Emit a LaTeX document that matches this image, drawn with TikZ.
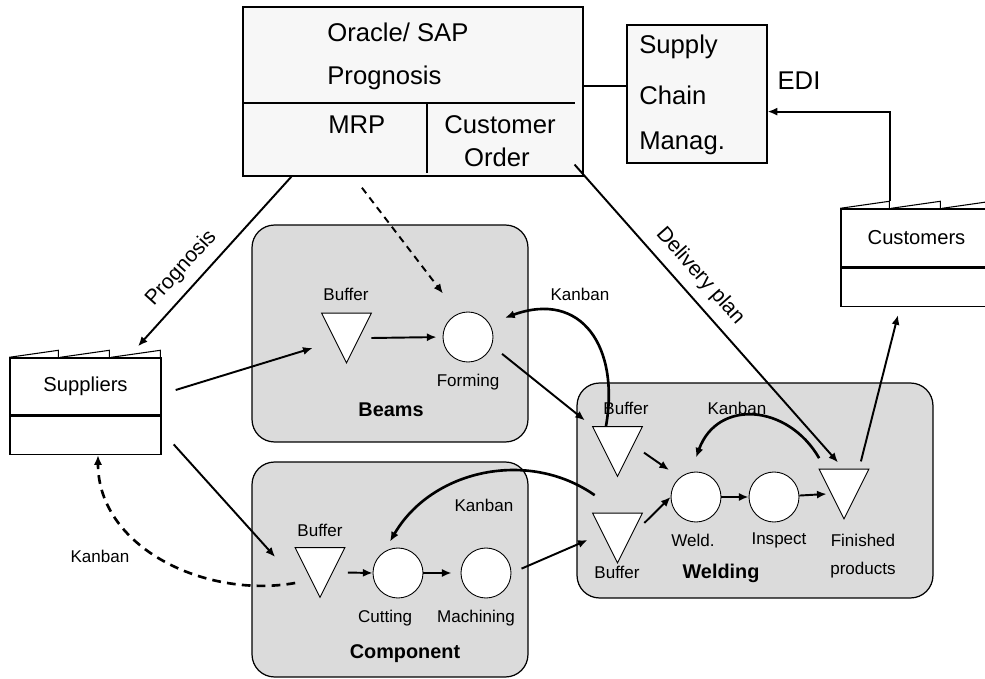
\documentclass[tikz,border=0pt]{standalone}
\usepackage{fontspec}
\setmainfont{Liberation Sans}
\usetikzlibrary{arrows.meta}

\begin{document}
\begin{tikzpicture}[
  x = 0.02cm,
  y = -0.02cm,
  >= {Latex[length = 5.5pt, width = 4.6pt]},
  system/.style = {draw, fill = black!3, line width = 0.7pt},
  cell/.style = {draw, fill = black!14, line width = 0.7pt, rounded corners = 0.45cm},
  folder/.style = {draw, fill = white, line width = 0.8pt, minimum width = 3.02cm, font = \fontsize{11.5}{13}\selectfont},
  buffer/.style = {minimum size = 0.98cm, inner sep = 0pt},
  wedge/.style = {draw, fill = white, line width = 0.5pt},
  process/.style = {draw, fill = white, circle, minimum size = 1cm, inner sep = 0pt, line width = 0.5pt},
  big/.style = {inner sep = 0pt, font = \fontsize{14.6}{17}\selectfont},
  small/.style = {inner sep = 0pt, font = \fontsize{9.7}{11}\selectfont},
  title/.style = {inner sep = 0pt, font = \bfseries\fontsize{11.3}{13}\selectfont},
  flow/.style = {->, line width = 1.1pt},
  kanban/.style = {->, line width = 1.5pt},
  ]

  \clip (0, 0) rectangle (985, 679);

  \node at (413, 91.5)
  [system, minimum width = 6.8cm, minimum height = 3.38cm, name = ERP] {};

  \node at (327, 32) [big, anchor = west, name = Oracle] {Oracle/ SAP};

  \node at (327, 78) [big, anchor = west, name = Prognosis] {Prognosis};

  \node at (328, 125) [big, anchor = west, name = MRP] {MRP};

  \node at (500, 125) [big, name = Customer] {Customer};

  \node at (497, 157) [big, name = Order] {Order};

  \draw [line width = 0.6pt] (243, 103) -- (575, 103);

  \draw [line width = 0.6pt] (427, 103) -- (427, 173);

  \node at (697, 94)
  [system, minimum width = 2.8cm, minimum height = 2.76cm, name = SCM] {};

  \node at (639, 47) [big, anchor = west, name = Supply] {Supply};

  \node at (639, 95) [big, anchor = west, name = Chain] {Chain};

  \node at (639, 143) [big, anchor = west, name = Manag] {Manag.};

  \node at (799, 81) [big, name = EDI] {EDI};

  \node at (916.5, 238)
  [folder, minimum height = 1.16cm, name = Customers] {Customers};

  \node at (Customers.south)
  [folder, anchor = north, minimum height = 0.76cm, name = CustomersBase] {};

  \foreach \dx in {0, 51, 102}
    \draw [line width = 0.6pt] (Customers.north west) ++(\dx, 0) -- ++(49, -7) -- ++(0, 7);

  \node at (85.5, 386.5)
  [folder, minimum height = 1.14cm, name = Suppliers] {Suppliers};

  \node at (Suppliers.south)
  [folder, anchor = north, minimum height = 0.76cm, name = SuppliersBase] {};

  \foreach \dx in {0, 51, 102}
    \draw [line width = 0.6pt] (Suppliers.north west) ++(\dx, 0) -- ++(49, -7) -- ++(0, 7);

  \node at (390, 333.5)
  [cell, minimum width = 5.52cm, minimum height = 4.34cm, name = Beams] {};

  \node at (390, 569.5)
  [cell, minimum width = 5.52cm, minimum height = 4.3cm, name = Component] {};

  \node at (755, 490.5)
  [cell, minimum width = 7.12cm, minimum height = 4.3cm, name = Welding] {};

  \node at (346.5, 338) [buffer, name = BeamsBuffer] {};

  \node at (346, 294) [small, name = BeamsBufferLabel] {Buffer};

  \node at (468, 337) [process, name = Forming] {};

  \node at (468, 382) [small, name = FormingLabel] {Forming};

  \node at (391, 410) [title, name = BeamsTitle] {Beams};

  \node at (580, 294) [small, name = BeamsKanban] {Kanban};

  \node at (320, 572.5) [buffer, name = CompBuffer] {};

  \node at (320, 530) [small, name = CompBufferLabel] {Buffer};

  \node at (398, 573) [process, name = Cutting] {};

  \node at (385, 618) [small, name = CuttingLabel] {Cutting};

  \node at (486, 573) [process, name = Machining] {};

  \node at (476, 618) [small, name = MachiningLabel] {Machining};

  \node at (405, 654) [title, name = ComponentTitle] {Component};

  \node at (484, 505) [small, name = CompKanban] {Kanban};

  \node at (617.5, 451.5) [buffer, name = WeldBufferTop] {};

  \node at (626, 408) [small, name = WeldBufferTopLabel] {Buffer};

  \node at (617.5, 538) [buffer, name = WeldBufferLow] {};

  \node at (617, 572) [small, name = WeldBufferLowLabel] {Buffer};

  \node at (696, 497) [process, name = Weld] {};

  \node at (693, 540) [small, name = WeldLabel] {Weld.};

  \node at (774, 497) [process, name = Inspect] {};

  \node at (779, 540) [small, name = InspectLabel] {Inspect};

  \node at (844, 494) [buffer, name = Finished] {};

  \node at (863, 540) [small, name = FinishedLabel] {Finished};

  \node at (863, 570) [small, name = ProductsLabel] {products};

  \node at (721, 573) [title, name = WeldingTitle] {Welding};

  \node at (737, 408) [small, name = WeldKanban] {Kanban};

  \node at (100, 556) [small, name = SuppliersKanban] {Kanban};

  \foreach \b in {BeamsBuffer, CompBuffer, WeldBufferTop, WeldBufferLow, Finished}
    \draw [wedge] (\b.north west) -- (\b.north east) -- (\b.south) -- cycle;

  \draw [line width = 1.1pt] (ERP.2) -- (ERP.2 -| SCM.west);

  \draw [flow] ([xshift = -0.53cm, yshift = 0.14cm] Customers.north) |- (SCM.-14);

  \draw [flow, <-] ([xshift = 1.05cm, yshift = 0.22cm] Suppliers.north) to node [sloped, above = 2pt, pos = 0.38, font = \fontsize{12}{14}\selectfont] {Prognosis} (ERP.215.6);

  \draw [flow, shorten >= 0.18cm] ([xshift = -0.18cm, yshift = 0.24cm] ERP.south east) to node [sloped, above = 2pt, pos = 0.41, font = \fontsize{12}{14}\selectfont] {Delivery plan} (Finished.90);

  \draw [flow, shorten <= 0.16cm] (Finished.59) to ([xshift = -0.37cm, yshift = -0.16cm] CustomersBase.south);

  \draw [->, line width = 1.1pt, dash pattern = on 4pt off 3pt, shorten <= 0.28cm] (ERP.235.5) to ([xshift = -0.5cm, yshift = 0.36cm] Forming.north);

  \draw [flow] ([xshift = 0.28cm, yshift = -0.07cm] Suppliers.east) to ([xshift = -0.18cm, yshift = -0.2cm] BeamsBuffer.west);

  \draw [flow] ([xshift = 0.24cm, yshift = -0.18cm] SuppliersBase.east) to ([xshift = -0.4cm, yshift = 0.31cm] CompBuffer.west);

  \draw [kanban, dash pattern = on 5pt off 3.5pt] ([yshift = -0.21cm] CompBuffer.west) to [out = 190, in = 270] ([xshift = 0.25cm] SuppliersBase.south);

  \draw [flow, shorten >= 0.12cm] (BeamsBuffer.east) to (Forming.west);

  \draw [flow, shorten <= 0.26cm, shorten >= 0.2cm] (Forming.-20) to (WeldBufferTop.135);

  \draw [kanban] (WeldBufferTop.115) to [out = 80, in = 20, looseness = 1.4] ([xshift = 0.3cm, yshift = 0.13cm] Forming.30);

  \draw [flow, shorten <= 0.04cm] (WeldBufferTop.east) to ([xshift = -0.18cm, yshift = 0.18cm] Weld.135);

  \draw [flow] ([xshift = 0.04cm, yshift = 0.3cm] WeldBufferLow.east) to (Weld.west);

  \draw [flow] (Weld) to (Inspect);

  \draw [flow] (Inspect) to ([xshift = 0.15cm] Finished.west);

  \draw [kanban] ([yshift = 0.22cm] Finished.135) to [out = 120, in = 70, looseness = 1.3] ([yshift = 0.28cm] Weld.north);

  \draw [flow, shorten <= 0.22cm] (Machining.east) to ([xshift = -0.1cm, yshift = -0.04cm] WeldBufferLow.west);

  \draw [kanban] ([xshift = 0.04cm, yshift = 0.36cm] WeldBufferLow.135) to [out = 145, in = 60] ([xshift = -0.16cm, yshift = 0.12cm] Cutting.north);

  \draw [flow, shorten <= 0.06cm] (CompBuffer.east) to (Cutting.west);

  \draw [flow, shorten >= 0.18cm] (Cutting) to (Machining);

\end{tikzpicture}
\end{document}
